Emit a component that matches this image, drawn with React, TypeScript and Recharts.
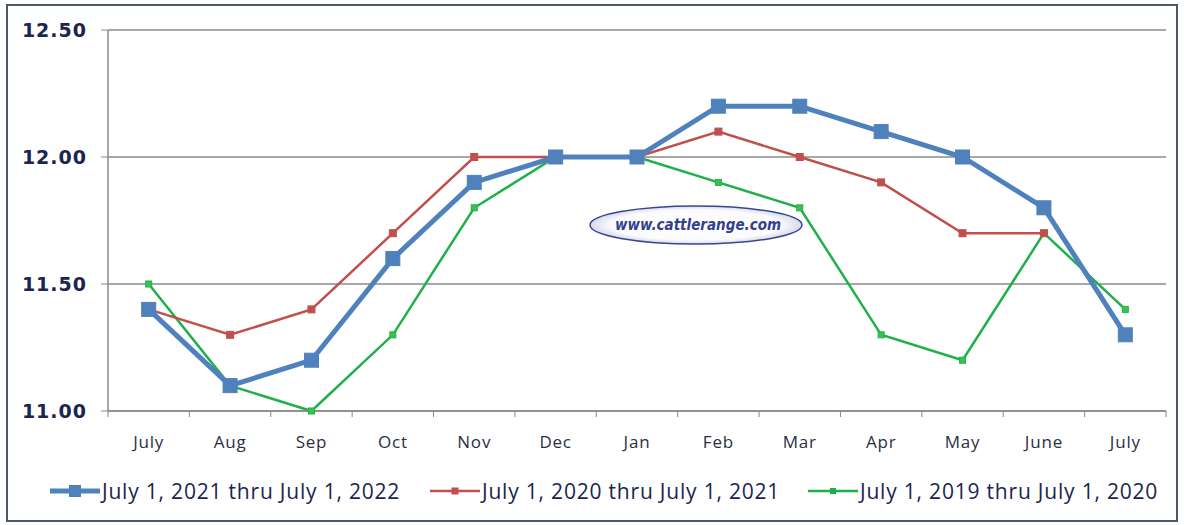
import { LineChart, Line, XAxis, YAxis, CartesianGrid } from 'recharts';

const months = ['July', 'Aug', 'Sep', 'Oct', 'Nov', 'Dec', 'Jan', 'Feb', 'Mar', 'Apr', 'May', 'June', 'July'];
const y2122 = [11.4, 11.1, 11.2, 11.6, 11.9, 12.0, 12.0, 12.2, 12.2, 12.1, 12.0, 11.8, 11.3];
const y2021 = [11.4, 11.3, 11.4, 11.7, 12.0, 12.0, 12.0, 12.1, 12.0, 11.9, 11.7, 11.7, null];
const y1920 = [11.5, 11.1, 11.0, 11.3, 11.8, 12.0, 12.0, 11.9, 11.8, 11.3, 11.2, 11.7, 11.4];
const yTicks = [11.0, 11.5, 12.0, 12.5];

const seriesNames = [
  'July 1, 2021 thru July 1, 2022',
  'July 1, 2020 thru July 1, 2021',
  'July 1, 2019 thru July 1, 2020',
];

const BLUE = '#4f81bd';
const RED = '#c0504d';
const GREEN = '#1fb04a';
const NAVY = '#1b2550';

const W = 1184;
const H = 525;
const PLOT_W = 1058;
const HALF = PLOT_W / months.length / 2;

const data = months.map((m, i) => ({
  key: `${m}-${i}`,
  month: m,
  a: y2122[i],
  b: y2021[i],
  c: y1920[i],
}));

function MonthTick(props: any) {
  const { x, y, index } = props;
  const last = index === months.length - 1;
  return (
    <g>
      <line x1={x - HALF} y1={y} x2={x - HALF} y2={y + 6} stroke="#888" />
      {last && <line x1={x + HALF} y1={y} x2={x + HALF} y2={y + 6} stroke="#888" />}
      <text x={x} y={y + 37} textAnchor="middle" fontSize={17} fill="#2a2f40"
        fontFamily="'Open Sans', sans-serif" letterSpacing={0.8}>
        {months[index]}
      </text>
    </g>
  );
}

function Square(props: any) {
  const { cx, cy, size, fill, stroke } = props;
  if (cx == null || cy == null) return null;
  return <rect x={cx - size / 2} y={cy - size / 2} width={size} height={size} fill={fill} stroke={stroke} strokeWidth={1} />;
}

function LegendIcon({ color, width, size }: { color: string; width: number; size: number }) {
  return (
    <svg width={50} height={20} style={{ display: 'block' }}>
      <line x1={0} y1={10} x2={50} y2={10} stroke={color} strokeWidth={width} />
      <rect x={25 - size / 2} y={10 - size / 2} width={size} height={size} fill={color} />
    </svg>
  );
}

export default function App() {
  const legend = [
    { name: seriesNames[0], color: BLUE, width: 5, size: 12, left: 50 },
    { name: seriesNames[1], color: RED, width: 2.5, size: 7, left: 430 },
    { name: seriesNames[2], color: GREEN, width: 2.5, size: 6, left: 808 },
  ];
  return (
    <div style={{ position: 'absolute', left: 0, top: 0, width: W, height: H, background: '#fff' }}>
      <div style={{ position: 'absolute', left: 6, top: 4, width: 1168, height: 514, border: '2px solid #4d5866' }} />
      <div style={{ position: 'absolute', left: 0, top: 0 }}>
        <LineChart width={W} height={H} data={data} margin={{ top: 30, right: 18, bottom: 74, left: 0 }}>
          <CartesianGrid vertical={false} stroke="#8a8a8a" strokeWidth={1.5} />
          <XAxis dataKey="key" padding={{ left: HALF, right: HALF }} height={40}
            axisLine={{ stroke: '#8a8a8a', strokeWidth: 1.5 }} tickLine={false} tickSize={0} tickMargin={0}
            interval={0} tick={<MonthTick />} />
          <YAxis domain={[11, 12.5]} ticks={yTicks} width={108}
            axisLine={{ stroke: '#8a8a8a', strokeWidth: 1.5 }} tickLine={{ stroke: '#8a8a8a' }} tickSize={7}
            tickMargin={14} tickFormatter={(v: number) => v.toFixed(2)}
            tick={{ fill: NAVY, fontSize: 19, fontWeight: 'bold', fontFamily: "'DejaVu Sans', sans-serif", letterSpacing: 1 }} />
          <Line dataKey="c" stroke={GREEN} strokeWidth={2.5} isAnimationActive={false}
            dot={<Square size={6} fill="#3cc050" stroke={GREEN} />} />
          <Line dataKey="b" stroke={RED} strokeWidth={2.5} isAnimationActive={false}
            dot={<Square size={7} fill={RED} stroke={RED} />} />
          <Line dataKey="a" stroke={BLUE} strokeWidth={5} isAnimationActive={false}
            dot={<Square size={14} fill={BLUE} stroke={BLUE} />} />
        </LineChart>
      </div>
      <svg width={W} height={H} style={{ position: 'absolute', left: 0, top: 0, pointerEvents: 'none' }}>
        <defs>
          <radialGradient id="wm" cx="50%" cy="50%" r="50%">
            <stop offset="0%" stopColor="#ffffff" />
            <stop offset="80%" stopColor="#fbfbfd" />
            <stop offset="100%" stopColor="#d6d9e8" />
          </radialGradient>
        </defs>
        <ellipse cx={696} cy={225} rx={106} ry={19} fill="url(#wm)" stroke="#3a4790" strokeWidth={1.5} />
        <text x={698} y={230} textAnchor="middle" fontSize={15} fontStyle="italic" fontWeight="bold"
          fill="#333f8f" fontFamily="'DejaVu Sans Condensed', 'DejaVu Sans', sans-serif">
          www.cattlerange.com
        </text>
      </svg>
      {legend.map((l) => (
        <div key={l.name} style={{ position: 'absolute', left: l.left, top: 477, display: 'flex', alignItems: 'center',
          fontFamily: "'Open Sans', sans-serif", fontSize: 21, letterSpacing: 0.8, color: NAVY, whiteSpace: 'nowrap' }}>
          <LegendIcon color={l.color} width={l.width} size={l.size} />
          <span style={{ marginLeft: 2 }}>{l.name}</span>
        </div>
      ))}
    </div>
  );
}
